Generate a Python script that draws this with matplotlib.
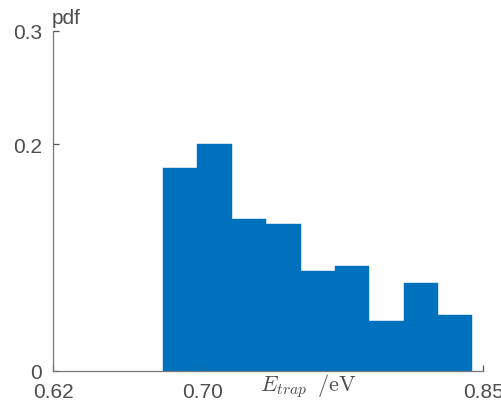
import numpy as np
import matplotlib
matplotlib.use('Agg')
import matplotlib.pyplot as plt

# histogram bins (eV) and pdf heights
bin_edges = [0.6787, 0.6972, 0.7156, 0.7339, 0.7525, 0.7708, 0.7892, 0.8077, 0.8259, 0.8443]
pdf_vals = [0.179, 0.200, 0.134, 0.130, 0.088, 0.093, 0.044, 0.078, 0.049]

x_ticks = [0.62, 0.70, 0.85]
x_tick_labels = ['0.62', '0.70', '0.85']
y_ticks = [0, 0.2, 0.3]
y_tick_labels = ['0', '0.2', '0.3']

plt.rcParams['font.family'] = ['Liberation Sans', 'DejaVu Sans']
plt.rcParams['mathtext.fontset'] = 'cm'

fig = plt.figure(figsize=(5.02, 4.10), dpi=100)
ax = fig.add_axes([0.1056, 0.0927, 0.8566, 0.8293])

edges = np.array(bin_edges)
ax.bar(edges[:-1], pdf_vals, width=np.diff(edges), align='edge',
       color='#0072BD', edgecolor='#0072BD', linewidth=0.3, zorder=1)

ax.set_xlim(0.62, 0.85)
ax.set_ylim(0, 0.3)
ax.set_xticks(x_ticks)
ax.set_xticklabels(x_tick_labels)
ax.set_yticks(y_ticks)
ax.set_yticklabels(y_tick_labels)

for side in ['top', 'right']:
    ax.spines[side].set_visible(False)
for side in ['left', 'bottom']:
    ax.spines[side].set_color('#777777')
    ax.spines[side].set_linewidth(0.9)
    ax.spines[side].set_zorder(3)
ax.tick_params(direction='in', length=4, width=0.9, color='#555555',
               labelcolor='#4d4d4d', labelsize=15)
ax.tick_params(axis='x', pad=8)
ax.tick_params(axis='y', pad=8)

fig.text(0.518, 0.0463, r'$E_{trap}\;\;/\mathrm{eV}$', fontsize=16,
         color='#4d4d4d', ha='left', va='baseline')
fig.text(0.132, 0.9415, 'pdf', fontsize=15, color='#4d4d4d',
         ha='center', va='baseline')

fig.savefig('out.png', dpi=100)
plt.close(fig)
